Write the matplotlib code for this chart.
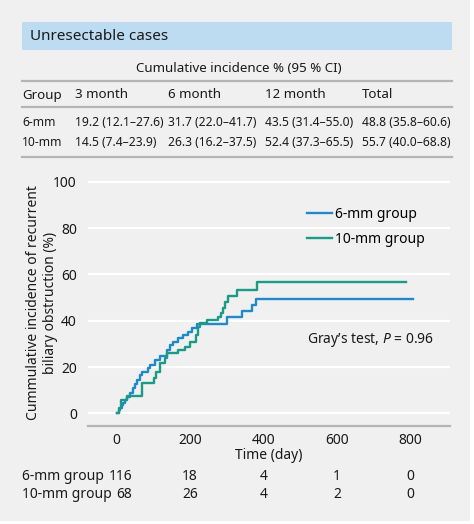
import matplotlib
matplotlib.use("Agg")
import matplotlib.pyplot as plt
import matplotlib.transforms as mtransforms
from matplotlib.patches import Rectangle

plt.rcParams['font.family'] = ['Noto Sans', 'DejaVu Sans']
plt.rcParams['mathtext.fontset'] = 'custom'
plt.rcParams['mathtext.it'] = 'Noto Sans:italic'

# Datos
t_6mm = [0, 5, 9, 14, 18, 23, 27, 36, 45, 50, 54, 63, 68, 86, 91, 104, 118, 136,
         145, 154, 168, 181, 195, 204, 218, 299, 340, 367, 378, 805]
ci_6mm = [0, 1.5, 2.5, 3.5, 4.4, 6.0, 7.3, 8.7, 10.8, 12.5, 14.5, 16.6, 18.0, 19.5,
          20.9, 23.1, 24.8, 27.4, 29.5, 31.0, 32.4, 33.9, 35.3, 37.0, 38.6, 41.5,
          44.2, 46.8, 49.4, 49.4]
t_10mm = [0, 5, 13, 27, 68, 101, 106, 118, 131, 136, 168, 186, 199, 215, 222, 227,
          245, 276, 285, 290, 295, 304, 328, 381, 787]
ci_10mm = [0, 2.5, 5.8, 7.7, 13.3, 15.5, 18.0, 21.7, 23.8, 26.0, 27.4, 28.8, 31.0,
           34.0, 37.4, 39.2, 40.2, 41.8, 43.5, 45.4, 48.2, 50.8, 53.3, 56.6, 56.6]

risk_times = [0, 200, 400, 600, 800]
risk_6mm = [116, 18, 4, 1, 0]
risk_10mm = [68, 26, 4, 2, 0]

table_cols = ["Group", "3 month", "6 month", "12 month", "Total"]
table_rows = [
    ["6-mm", "19.2 (12.1–27.6)", "31.7 (22.0–41.7)", "43.5 (31.4–55.0)", "48.8 (35.8–60.6)"],
    ["10-mm", "14.5 (7.4–23.9)", "26.3 (16.2–37.5)", "52.4 (37.3–65.5)", "55.7 (40.0–68.8)"],
]

W, H = 474, 524
bg = '#f0f0f0'
blue = '#2089c9'
teal = '#1b9a86'
rule = '#b4b4b4'
ink = '#1a1a1a'
fs = 10

fig = plt.figure(figsize=(W / 100, H / 100), dpi=100, facecolor='white')
fig.patches.append(Rectangle((0, 3 / H), 470 / W, 1, transform=fig.transFigure,
                             facecolor=bg, edgecolor='none', zorder=-2))


def fx(px):
    return px / W


def fy(py):
    return 1 - py / H


# Cabecera
fig.patches.append(Rectangle((fx(22), fy(50)), fx(430), 28 / H, transform=fig.transFigure,
                             facecolor='#bddcf1', edgecolor='none', zorder=-1))
fig.text(fx(30), fy(36), "Unresectable cases", fontsize=11, va='center', color=ink)
fig.text(fx(239), fy(68), "Cumulative incidence % (95 % CI)", fontsize=9.6, va='center',
         ha='center', color=ink)
for py in (81, 107, 157):
    fig.add_artist(plt.Line2D([fx(22), fx(452)], [fy(py), fy(py)], color=rule, lw=1.6))

col_x = [22, 75, 168, 265, 362]
for x, c in zip(col_x, table_cols):
    fig.text(fx(x), fy(95), c, fontsize=9.6, va='center', color=ink)
for py, row in zip((123, 143), table_rows):
    for x, c in zip(col_x, row):
        fig.text(fx(x), fy(py), c, fontsize=8.7, va='center', color=ink)

# Gráfico
ax = fig.add_axes([fx(88), fy(425.7), fx(450 - 88), (425.7 - 179.4) / H])
ax.set_facecolor(bg)
ax.step(t_6mm, ci_6mm, where='post', color=blue, lw=1.7, label='6-mm group')
ax.step(t_10mm, ci_10mm, where='post', color=teal, lw=1.7, label='10-mm group')
ax.set_xlim(-78, 907)
ax.set_ylim(-5.3, 101)
ax.set_yticks(range(0, 101, 20))
ax.set_xticks(risk_times)
ax.grid(axis='y', color='white', lw=1.6)
ax.set_axisbelow(True)
for s in ('top', 'right', 'left'):
    ax.spines[s].set_visible(False)
ax.spines['bottom'].set_color(rule)
ax.spines['bottom'].set_linewidth(1.6)
ax.tick_params(length=0, labelsize=fs, colors=ink)
ax.tick_params(axis='y', pad=8)
ax.tick_params(axis='x', pad=5)
ax.set_xlabel("Time (day)", fontsize=fs, labelpad=0, color=ink)
ax.set_ylabel("Cummulative incidence of recurrent\nbiliary obstruction (%)", fontsize=fs,
              color=ink, linespacing=1.15)
ax.yaxis.set_label_coords((58 - 88) / 362, 0.5)
ax.legend(loc='upper left', bbox_to_anchor=((294 - 88) / 362, 0.94), frameon=False,
          fontsize=fs, handlelength=1.8, handletextpad=0.25, labelspacing=0.75)
ax.text(0.955, (425.7 - 340) / (425.7 - 179.4), "Gray’s test, $\\it{P}$ = 0.96",
        transform=ax.transAxes, ha='right', va='center', fontsize=fs, color=ink)

# Número en riesgo
trans = mtransforms.blended_transform_factory(ax.transData, fig.transFigure)
for py, name, vals in ((476, "6-mm group", risk_6mm), (495, "10-mm group", risk_10mm)):
    fig.text(fx(22), fy(py), name, fontsize=fs, va='center', color=ink)
    for i, (t, v) in enumerate(zip(risk_times, vals)):
        if i == 0:
            fig.text(t + 42, fy(py), str(v), transform=trans, fontsize=fs, va='center',
                     ha='right', color=ink)
        else:
            fig.text(t, fy(py), str(v), transform=trans, fontsize=fs, va='center',
                     ha='center', color=ink)

fig.savefig('out.png', dpi=100, facecolor=fig.get_facecolor())
